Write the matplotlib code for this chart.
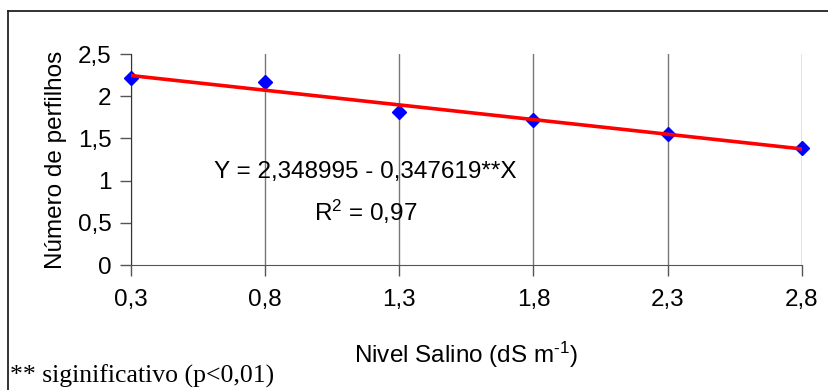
# Número de perfilhos em função do nível salino, com reta de regressão
import numpy as np
import matplotlib.pyplot as plt
from matplotlib.lines import Line2D

plt.rcParams['font.family'] = 'Liberation Sans'
plt.rcParams['mathtext.fontset'] = 'custom'
plt.rcParams['mathtext.rm'] = 'Liberation Sans'
plt.rcParams['mathtext.it'] = 'Liberation Sans'

# Dados
nivel_salino = [0.3, 0.8, 1.3, 1.8, 2.3, 2.8]
perfilhos = [2.22, 2.17, 1.81, 1.72, 1.55, 1.39]
x_ticklabels = ["0,3", "0,8", "1,3", "1,8", "2,3", "2,8"]
y_ticks = [0, 0.5, 1, 1.5, 2, 2.5]
y_ticklabels = ["0", "0,5", "1", "1,5", "2", "2,5"]
a, b = 2.348995, -0.347619   # Y = a + b*X

fs = 17.5
fig = plt.figure(figsize=(8.29, 3.9), dpi=100)
ax = fig.add_axes([0.158, 0.3205, 0.809, 0.541])

# Pontos e reta ajustada
xr = np.array([nivel_salino[0], nivel_salino[-1]])
ax.plot(nivel_salino, perfilhos, linestyle='none', marker='D', markersize=7.5,
        color='#0000ff', zorder=3, clip_on=False)
ax.plot(xr, a + b * xr, color='#ff0000', linewidth=2.6, zorder=4)

ax.set_xlim(0.3, 2.8)
ax.set_ylim(0, 2.5)
ax.set_xticks(nivel_salino)
ax.set_xticklabels(x_ticklabels, fontsize=fs)
ax.set_yticks(y_ticks)
ax.set_yticklabels(y_ticklabels, fontsize=fs)
ax.tick_params(axis='both', direction='out', length=8, width=1, color='#555555', pad=6)
ax.tick_params(axis='x', pad=9)
ax.grid(axis='x', color='#777777', linewidth=1)
ax.set_axisbelow(True)

for s in ['top', 'right']:
    ax.spines[s].set_visible(False)
ax.spines['left'].set_color('#333333')
ax.spines['bottom'].set_color('#555555')

ax.set_ylabel("Número de perfilhos", fontsize=fs, labelpad=8)
ax.set_xlabel(r"Nivel Salino (dS m$^{\text{-1}}$)", fontsize=fs, labelpad=21)

ax.text(1.172, 1.10, "Y = 2,348995 - 0,347619**X", fontsize=fs, ha='center', va='center')
ax.text(1.174, 0.63, r"R$^{\mathrm{2}}$ = 0,97", fontsize=fs, ha='center', va='center')

fig.text(10 / 829, 1 - 376 / 390, "** siginificativo (p<0,01)", fontsize=18.5,
         family='Liberation Serif', ha='left', va='center')

# Moldura
fig.add_artist(Line2D([8 / 829, 1], [1 - 11 / 390, 1 - 11 / 390], color='#222222', linewidth=1.3))
fig.add_artist(Line2D([8 / 829, 8 / 829], [0, 1 - 11 / 390], color='#222222', linewidth=1.3))

plt.savefig("out.png", dpi=100)
